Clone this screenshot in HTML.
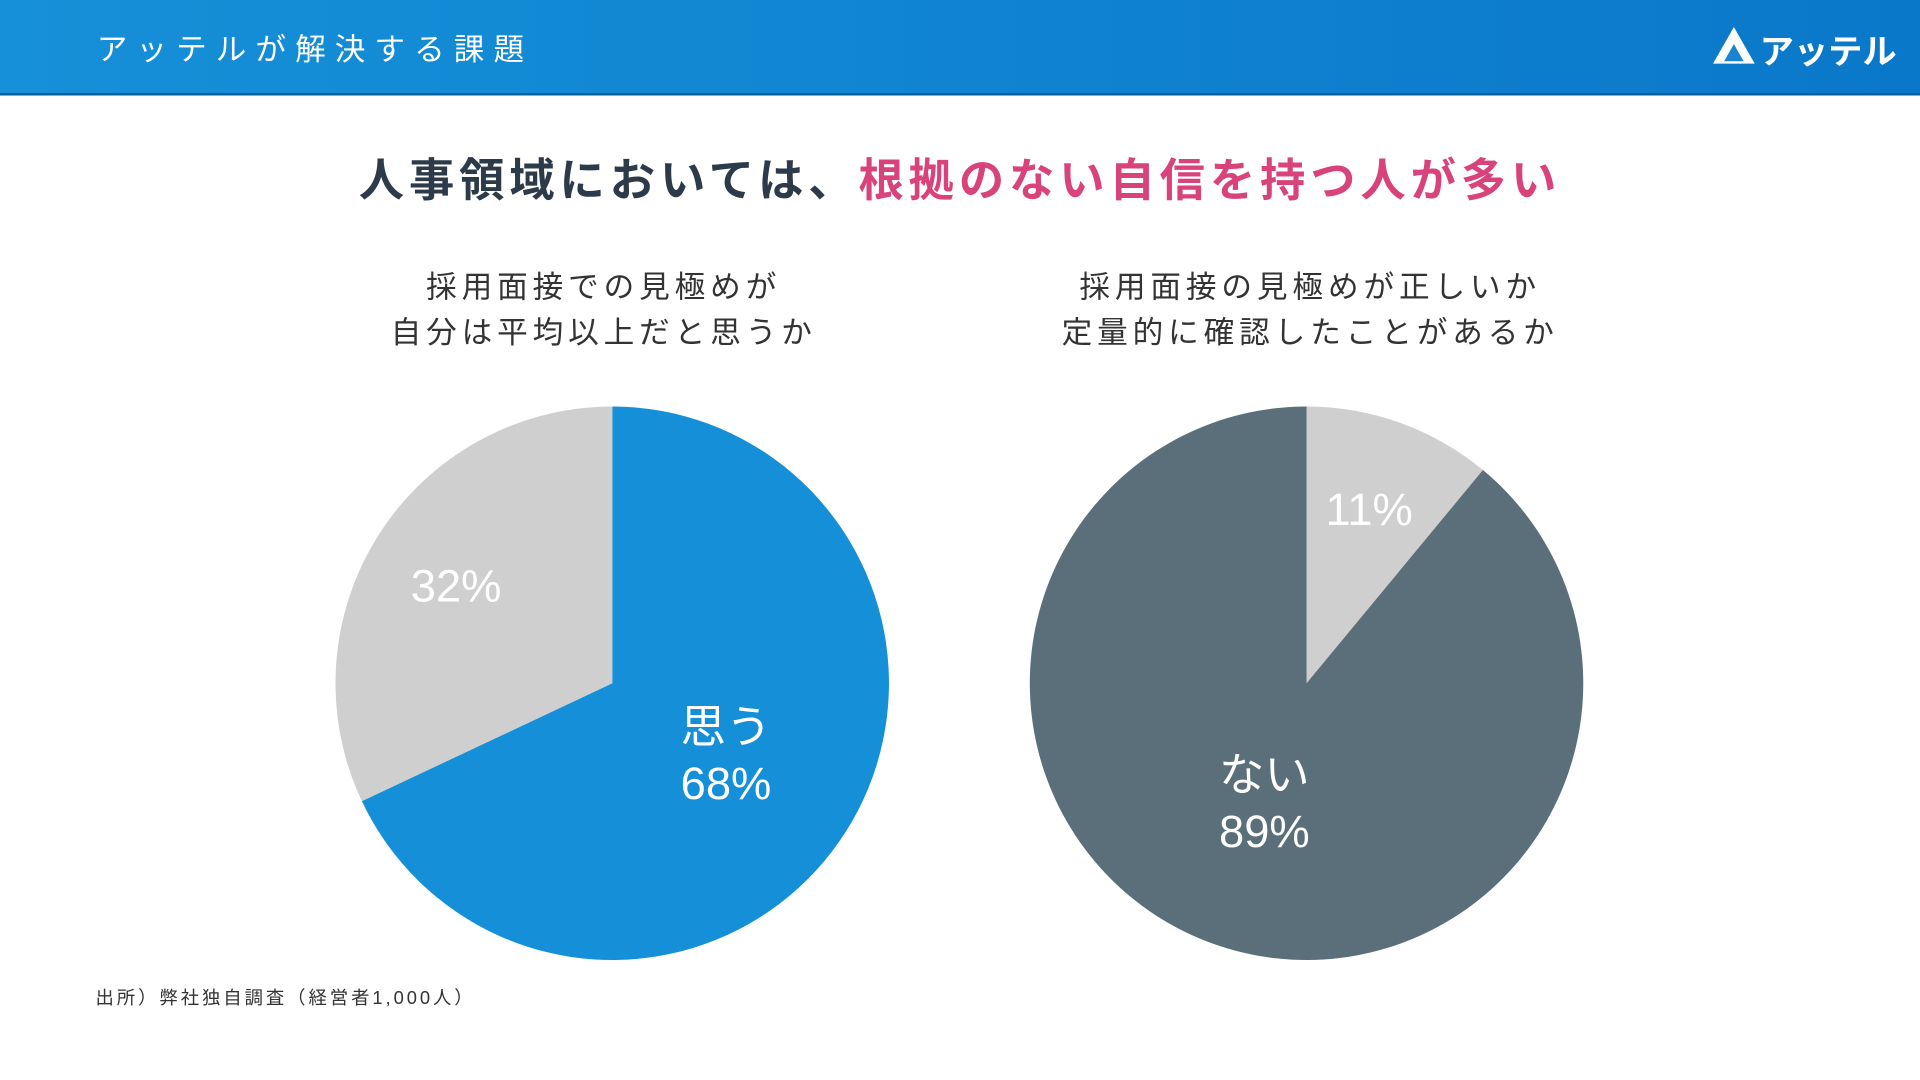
<!DOCTYPE html>
<html><head><meta charset="utf-8"><style>
html,body{margin:0;padding:0;background:#fff;}
svg{display:block;font-family:"Liberation Sans","Noto Sans CJK JP",sans-serif;}
</style></head><body>
<svg width="1920" height="1080" viewBox="0 0 1568 882" xmlns="http://www.w3.org/2000/svg">
<defs><linearGradient id="hg" x1="0" x2="1"><stop offset="0" stop-color="#1690d8"/><stop offset="1" stop-color="#0a78c9"/></linearGradient></defs>
<rect x="0" y="0" width="1568" height="77" fill="url(#hg)"/>
<rect x="0" y="76" width="1568" height="2" fill="#0a5f9e"/>
<text x="79" y="49" font-size="25" fill="#fff" letter-spacing="7.4">アッテルが解決する課題</text>
<g>
<polygon points="1416,22 1433,52 1399,52" fill="#fff"/>
<polygon points="1416,36 1424,50 1408,50" fill="#1a84d0"/>
<text x="1437" y="52" font-size="28" font-weight="bold" fill="#fff">アッテル</text>
</g>
<text x="784" y="160" font-size="37" font-weight="bold" text-anchor="middle" letter-spacing="4"><tspan fill="#2d3a4a">人事領域においては、</tspan><tspan fill="#d9437c">根拠のない自信を持つ人が多い</tspan></text>
<g font-size="25" fill="#333" text-anchor="middle" letter-spacing="4">
<text x="493" y="243">採用面接での見極めが</text><text x="493" y="280">自分は平均以上だと思うか</text></g>
<g font-size="25" fill="#333" text-anchor="middle" letter-spacing="4">
<text x="1070" y="243">採用面接の見極めが正しいか</text><text x="1070" y="280">定量的に確認したことがあるか</text></g>
<g id="pies"></g>
<text x="78" y="820" font-size="15" fill="#333" letter-spacing="2.4">出所）弊社独自調査（経営者1,000人）</text>
</svg>
<script>
const pie1Labels=["思う","思わない"];
const pie1Values=[68,32];
const pie2Labels=["ある","ない"];
const pie2Values=[11,89];
const ns="http://www.w3.org/2000/svg";
const g=document.getElementById('pies');
function arc(cx,cy,r,a0,a1){
  const p=a=>[cx+r*Math.sin(a*2*Math.PI),cy-r*Math.cos(a*2*Math.PI)];
  const [x0,y0]=p(a0),[x1,y1]=p(a1);
  return `M${cx},${cy}L${x0},${y0}A${r},${r} 0 ${a1-a0>0.5?1:0} 1 ${x1},${y1}Z`;
}
function drawPie(cx,cy,r,vals,labels,colors,txt,names){
  const tot=vals.reduce((a,b)=>a+b,0);let a=0;
  vals.forEach((v,i)=>{
    const f=v/tot;
    const path=document.createElementNS(ns,'path');
    path.setAttribute('d',arc(cx,cy,r,a,a+f));
    path.setAttribute('fill',colors[i]);
    
    
    g.appendChild(path);
    const mid=(a+f/2)*2*Math.PI, lr=txt[i].rr*r;
    const lx=cx+lr*Math.sin(mid)+txt[i].dx, ly=cy-lr*Math.cos(mid)+txt[i].dy;
    const t=document.createElementNS(ns,'text');
    t.setAttribute('x',lx);t.setAttribute('text-anchor','middle');
    t.setAttribute('font-size','37');t.setAttribute('fill','#fff');
    
    
    if(txt[i].show){
      const s=document.createElementNS(ns,'tspan');s.setAttribute('x',lx);s.setAttribute('y',ly-10);s.textContent=labels[i];t.appendChild(s);
      const s2=document.createElementNS(ns,'tspan');s2.setAttribute('x',lx);s2.setAttribute('y',ly+36);s2.textContent=v+'%';t.appendChild(s2);
    } else {t.setAttribute('y',ly+12);t.textContent=v+'%';}
    g.appendChild(t);
    a+=f;
  });
}
drawPie(500,558,226,pie1Values,pie1Labels,['#1590d8','#cfcfcf'],[{rr:0.45,show:true,dx:7,dy:4},{rr:0.6,show:false,dx:-13,dy:-6}],['slice-yes','slice-no']);
drawPie(1067,558,226,pie2Values,pie2Labels,['#cfcfcf','#5b6f7a'],[{rr:0.72,show:false,dx:-4,dy:12},{rr:0.45,show:true,dx:0,dy:2}],['slice-have','slice-havenot']);
</script>
</body></html>
